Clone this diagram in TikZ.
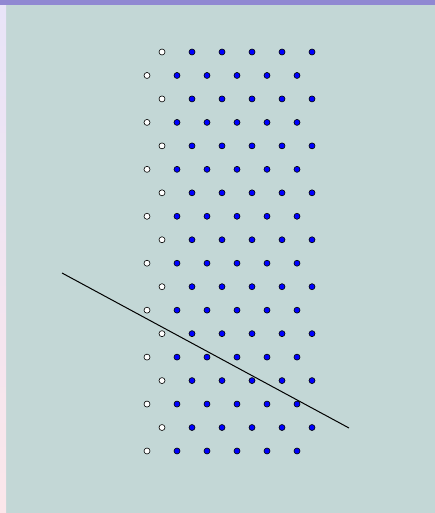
\documentclass[tikz,border=0pt]{standalone}
\usepackage{tikz}
\usepackage{xcolor}
\definecolor{bgteal}{HTML}{C3D7D6}
\definecolor{topband}{HTML}{9088D2}
\definecolor{lefttop}{HTML}{E8E4F8}
\definecolor{leftbot}{HTML}{FBE6EA}
\tikzset{
  site/.style={circle,draw=black,line width=0.6pt,inner sep=0pt,minimum size=6pt},
  occ/.style={site,fill=blue},
  vac/.style={site,fill=white}
}

\begin{document}
\begin{tikzpicture}[x=1pt,y=-1pt]
                \fill[bgteal] (0,0) rectangle (435,513);
                \shade[top color=lefttop,bottom color=leftbot] (0,5) rectangle (6,513);
                \fill[topband] (0,0) rectangle (435,5);
                \useasboundingbox (0,0) rectangle (435,513);
                % lattice rows, shifted every other row
                \foreach \r in {0,...,17}{
                    \pgfmathtruncatemacro{\odd}{mod(\r,2)}
                    \pgfmathsetmacro{\y}{52+\r*23.47}
                    \pgfmathsetmacro{\xs}{\odd==1 ? 147 : 162}
                    \node[vac] (s\r-0) at (\xs,\y) {};
                    \foreach \c in {1,...,5}{
                        \node[occ] (s\r-\c) at (\xs+30*\c,\y) {};
                    }
                }
                \coordinate (cutA) at (62,273);
                \coordinate (cutB) at (349,428);
                \draw[line width=1pt] (cutA)--(cutB);
            \end{tikzpicture}
\end{document}
